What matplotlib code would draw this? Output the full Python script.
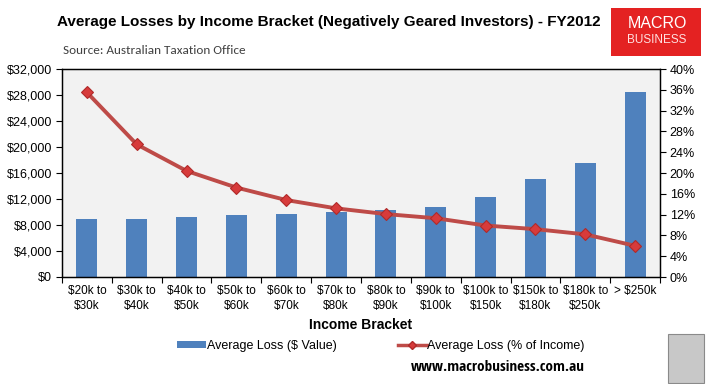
import matplotlib
matplotlib.use("Agg")
import matplotlib.pyplot as plt
from matplotlib.patches import Rectangle
from matplotlib.lines import Line2D
import numpy as np

SANS = ['Liberation Sans', 'DejaVu Sans']
CAL = ['Carlito', 'Open Sans', 'DejaVu Sans']
URLF = ['Open Sans Condensed', 'Carlito', 'DejaVu Sans']

categories = ["$20k to\n$30k", "$30k to\n$40k", "$40k to\n$50k", "$50k to\n$60k",
              "$60k to\n$70k", "$70k to\n$80k", "$80k to\n$90k", "$90k to\n$100k",
              "$100k to\n$150k", "$150k to\n$180k", "$180k to\n$250k", "> $250k"]
loss_dollars = [8900, 8900, 9230, 9540, 9690, 10000, 10300, 10820, 12360, 15130, 17540, 28460]
loss_pct = [35.5, 25.5, 20.4, 17.2, 14.8, 13.2, 12.1, 11.3, 9.9, 9.2, 8.2, 6.0]
left_ticks = list(range(0, 32001, 4000))
right_ticks = list(range(0, 41, 4))

fig = plt.figure(figsize=(7.12, 3.84), dpi=100)
ax = fig.add_axes([62/712, 1-277/384, 598/712, 208/384])
ax.set_facecolor('#F2F2F2')
x = np.arange(len(categories))
ax.bar(x, loss_dollars, width=0.42, color='#4F81BD', zorder=2)
ax.set_xlim(-0.5, len(categories)-0.5)
ax.set_ylim(0, 32000)
ax.set_yticks(left_ticks)
ax.set_yticklabels([f"${v:,}" for v in left_ticks], fontsize=9, family=SANS)
ax.set_xticks(x)
ax.set_xticklabels(categories, fontsize=8.5, family=SANS, linespacing=1.35)
ax.tick_params(axis='x', length=0, pad=6)
ax.set_xticks(np.arange(-0.5, len(categories)), minor=True)
ax.tick_params(axis='x', which='minor', length=4, direction='out', width=0.8)
ax.tick_params(axis='y', length=4, width=0.8, direction='out', pad=3)
for s in ax.spines.values():
    s.set_linewidth(0.9)
ax.set_xlabel("Income Bracket", fontsize=10, fontweight='bold', family=SANS, labelpad=4)

ax2 = ax.twinx()
ax2.plot(x, loss_pct, color='#BE4B48', lw=2.8, marker='D', markersize=6,
         markerfacecolor='#D73B3B', markeredgecolor='#B02A2A', markeredgewidth=0.8, zorder=3)
ax2.set_ylim(0, 40)
ax2.set_yticks(right_ticks)
ax2.set_yticklabels([f"{v}%" for v in right_ticks], fontsize=9, family=SANS)
ax2.tick_params(axis='y', length=4, width=0.8, direction='out', pad=3)
for s in ax2.spines.values():
    s.set_linewidth(0.9)

# Title and source
fig.text(329/712, 1-22/384, "Average Losses by Income Bracket (Negatively Geared Investors) - FY2012",
         ha='center', va='center', fontsize=11, fontweight='bold', family=SANS)
fig.text(63/712, 1-50/384, "Source: Australian Taxation Office", ha='left', va='center',
         fontsize=9.5, family=CAL, color='#404040')

# Logo
fig.patches.append(Rectangle((611/712, 1-56/384), 90/712, 48/384, transform=fig.transFigure,
                             facecolor='#E42222', edgecolor='none', zorder=5))
fig.text(657/712, 1-24/384, "MACRO", ha='center', va='center', fontsize=11.5, color='white',
         family=SANS, zorder=6)
fig.text(657/712, 1-40/384, "BUSINESS", ha='center', va='center', fontsize=8.5, color='#FFE0E0',
         family=SANS, zorder=6)

# Legend
h1 = Rectangle((0, 0), 1, 1, facecolor='#4F81BD')
h2 = Line2D([], [], color='#BE4B48', lw=2.5, marker='D', markersize=4,
            markerfacecolor='#D73B3B', markeredgecolor='#B02A2A')
fig.legend([h1, h2], ["Average Loss ($ Value)", "Average Loss (% of Income)"],
           loc='center', bbox_to_anchor=(381/712, 1-346/384), ncol=2, frameon=False,
           prop={'family': SANS, 'size': 9}, handlelength=2.3, handleheight=0.55,
           handletextpad=0.05, columnspacing=4.9, borderpad=0, borderaxespad=0)

fig.text(498/712, 1-367/384, "www.macrobusiness.com.au", ha='center', va='center',
         fontsize=11, fontweight='bold', family=URLF)

# wolf image placeholder
fig.patches.append(Rectangle((668/712, 1-383/384), 36/712, 49/384, transform=fig.transFigure,
                             facecolor='#C8C8C8', edgecolor='#8A8A8A', lw=0.8))

fig.savefig("out.png", dpi=100)
